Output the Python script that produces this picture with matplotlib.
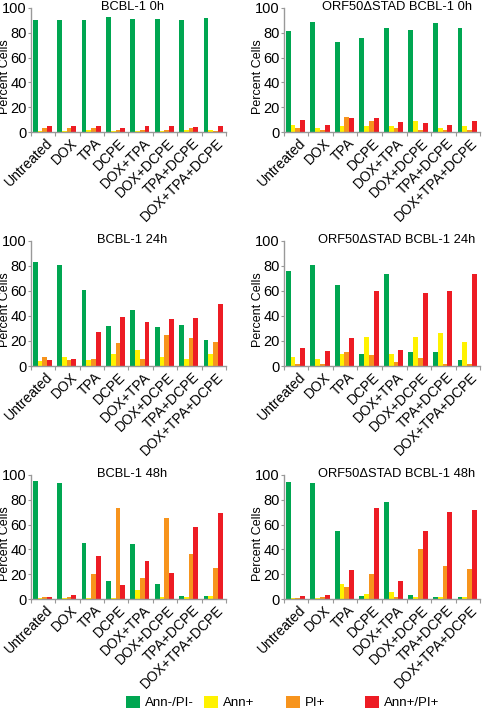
import numpy as np
import matplotlib
matplotlib.use("Agg")
import matplotlib.pyplot as plt
from matplotlib.patches import Patch

plt.rcParams['font.family'] = ['Liberation Sans', 'DejaVu Sans']

treatments = ['Untreated', 'DOX', 'TPA', 'DCPE', 'DOX+TPA', 'DOX+DCPE',
              'TPA+DCPE', 'DOX+TPA+DCPE']
series = ['Ann-/PI-', 'Ann+', 'PI+', 'Ann+/PI+']
colors = ['#00A651', '#FFF200', '#F7941D', '#ED1C24']

# each panel: [Ann-/PI-, Ann+, PI+, Ann+/PI+]
bcbl_0h = [
    [90, 90, 90, 92.5, 91, 91, 90.5, 91.5],
    [1, 1, 1.5, 1, 1, 1, 1.5, 2],
    [3, 3, 3, 2, 2, 1.5, 3, 1],
    [5, 4.5, 5, 3.5, 4.5, 5, 4, 4.5],
]
orf_0h = [
    [81.5, 88.5, 72.5, 75.5, 84, 82.5, 88, 84],
    [6, 3.5, 4.5, 4.5, 4.5, 8.5, 3.5, 5],
    [3, 2, 12, 8.5, 3, 2, 2, 2],
    [10, 5.5, 11, 11.5, 8, 7, 6, 9],
]
bcbl_24h = [
    [83, 80.5, 61, 32, 45, 31, 33, 20.5],
    [4, 7, 5, 10, 13, 7, 6, 10],
    [7.5, 5, 6, 18, 6, 25, 22, 19],
    [5, 6, 27, 39.5, 35, 37.5, 38, 49.5],
]
orf_24h = [
    [76, 80.5, 65, 10, 73.5, 11.5, 11.5, 4.5],
    [7, 5.5, 10, 23.5, 10, 23.5, 26, 19.5],
    [2, 1.5, 11.5, 8.5, 3, 6.5, 2, 1.5],
    [14.5, 12, 22, 60, 12.5, 58, 60, 73.5],
]
bcbl_48h = [
    [95.5, 93.5, 45, 14.5, 44.5, 12, 2.7, 2.7],
    [0.5, 0.5, 0.5, 1, 7, 1.5, 2, 2.5],
    [2, 1.5, 20, 73, 17, 65.5, 36.5, 25],
    [1.5, 3.5, 34.5, 11, 31, 21, 58, 69.5],
]
orf_48h = [
    [94.5, 93.5, 55, 2.4, 78, 2.9, 1.6, 1.6],
    [1, 0.5, 12, 4, 5.5, 2, 1.5, 2],
    [1, 2, 10, 20, 2, 40.5, 27, 24],
    [2.5, 3, 23.5, 73, 14.5, 54.5, 70, 72],
]

panels = [
    ('BCBL-1 0h', bcbl_0h), ('ORF50\u0394STAD BCBL-1 0h', orf_0h),
    ('BCBL-1 24h', bcbl_24h), ('ORF50\u0394STAD BCBL-1 24h', orf_24h),
    ('BCBL-1 48h', bcbl_48h), ('ORF50\u0394STAD BCBL-1 48h', orf_48h),
]

fig = plt.figure(figsize=(4.82, 7.10), dpi=100)

rows = [(0.814, 0.989), (0.4845, 0.6606), (0.1563, 0.331)]
cols = [(0.064, 0.469), (0.589, 0.996)]
spine_col = '#999999'

x = np.arange(len(treatments))
w = 0.195
for k, (title, vals) in enumerate(panels):
    r, c = divmod(k, 2)
    b, t = rows[r]
    l, rr = cols[c]
    ax = fig.add_axes([l, b, rr - l, t - b])
    for j in range(4):
        ax.bar(x + 0.08 + j * w, vals[j], width=w, align='edge',
               color=colors[j], edgecolor='none')
    ax.set_xlim(0, 8)
    ax.set_ylim(0, 100)
    ax.set_yticks(range(0, 101, 20))
    ax.tick_params(axis='y', labelsize=10.5, length=2, color=spine_col, pad=1)
    ax.set_xticks(range(0, 9))
    ax.set_xticklabels([])
    ax.tick_params(axis='x', which='major', length=3, color=spine_col)
    ax.set_xticks(x + 0.6, minor=True)
    ax.set_xticklabels(treatments, minor=True, rotation=45, ha='right',
                       rotation_mode='anchor', fontsize=10)
    ax.tick_params(axis='x', which='minor', length=0, pad=3)
    for s in ['top', 'right']:
        ax.spines[s].set_visible(False)
    for s in ['left', 'bottom']:
        ax.spines[s].set_color(spine_col)
        ax.spines[s].set_linewidth(1)
    ax.set_ylabel('Percent Cells', fontsize=9)
    ax.yaxis.set_label_coords(-0.103, 0.45)
    tx = 0.52 if c == 0 else 0.575
    ax.text(tx, 1.01, title, transform=ax.transAxes, ha='center',
            va='center', fontsize=9.3)

leg_x = [0.243, 0.405, 0.575, 0.739]
for j in range(4):
    fig.legend([Patch(facecolor=colors[j], edgecolor='none')], [series[j]],
               loc='lower left', bbox_to_anchor=(leg_x[j], -0.012),
               frameon=False, fontsize=9.5, handlelength=1.0,
               handleheight=1.0, handletextpad=0.4, borderpad=0.2)

fig.savefig('out.png', dpi=100)
